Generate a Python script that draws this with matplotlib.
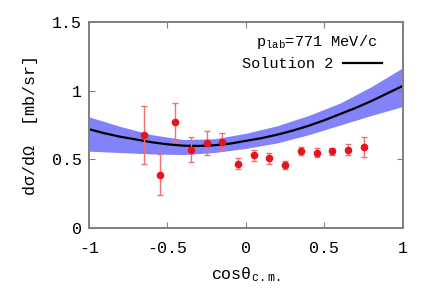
import matplotlib

matplotlib.use("Agg")
import matplotlib.pyplot as plt
import numpy as np

plt.rcParams["font.family"] = ["Liberation Mono", "DejaVu Sans Mono"]
plt.rcParams["mathtext.fontset"] = "custom"
plt.rcParams["mathtext.rm"] = "Liberation Mono"

# data points
cos_data = [-0.65, -0.55, -0.45, -0.35, -0.25, -0.15, -0.05, 0.05, 0.15,
            0.25, 0.35, 0.45, 0.55, 0.65, 0.75]
xs_data = [0.68, 0.39, 0.77, 0.57, 0.62, 0.63, 0.47, 0.53, 0.51,
           0.46, 0.56, 0.55, 0.56, 0.57, 0.59]
xs_err = [0.21, 0.15, 0.14, 0.09, 0.09, 0.065, 0.04, 0.04, 0.04,
          0.03, 0.03, 0.03, 0.025, 0.04, 0.07]

# Solution 2 curve
cos_fit = [-1.0, -0.9, -0.8, -0.7, -0.6, -0.5, -0.4, -0.3, -0.2, -0.1, 0.0,
           0.1, 0.2, 0.3, 0.4, 0.5, 0.6, 0.7, 0.8, 0.9, 1.0]
xs_fit = [0.72, 0.69, 0.665, 0.645, 0.625, 0.61, 0.60, 0.598, 0.603, 0.615, 0.635,
          0.655, 0.68, 0.71, 0.745, 0.785, 0.83, 0.875, 0.925, 0.98, 1.035]

# error band
cos_band = [-1.0, -0.8, -0.6, -0.4, -0.2, 0.0, 0.2, 0.4, 0.6, 0.8, 1.0]
band_hi = [0.81, 0.74, 0.68, 0.645, 0.65, 0.69, 0.745, 0.82, 0.91, 1.03, 1.167]
band_lo = [0.56, 0.55, 0.54, 0.535, 0.55, 0.58, 0.62, 0.68, 0.75, 0.82, 0.885]

fig = plt.figure(figsize=(4.36, 3.05), dpi=100)
ax = fig.add_axes([0.204, 0.252, 0.72, 0.676])

ax.fill_between(cos_band, band_lo, band_hi, color="#8282fa", lw=0)
ax.plot(cos_fit, xs_fit, color="black", lw=1.6, label="Solution 2")
ax.errorbar(cos_data, xs_data, yerr=xs_err, fmt="none", ecolor="#f07070",
            elinewidth=1.0, capsize=2, capthick=1.0)
ax.plot(cos_data, xs_data, "o", color="#e8141c", ms=5.5, mec="none")

ax.set_xlim(-1, 1)
ax.set_ylim(0, 1.5)
ax.set_xticks([-1, -0.5, 0, 0.5, 1])
ax.set_xticklabels(["-1", "-0.5", "0", "0.5", "1"])
ax.set_yticks([0, 0.5, 1, 1.5])
ax.set_yticklabels(["0", "0.5", "1", "1.5"])
ax.tick_params(direction="in", top=True, right=True, length=4, width=0.8,
               color="#808080", labelsize=12)
ax.tick_params(axis="x", pad=9)
ax.tick_params(axis="y", pad=5)
for s in ax.spines.values():
    s.set_color("#808080")
    s.set_linewidth(1.4)

ax.set_xlabel(r"cos$\mathregular{\theta_{c.m.}}$", fontsize=12, labelpad=7)
ax.set_ylabel("dσ/dΩ  [mb/sr]", fontsize=12, labelpad=10)

ax.text(0.92, 0.903, r"$\mathregular{p_{lab}}$=771 MeV/c", transform=ax.transAxes,
        ha="right", va="center", fontsize=11)
ax.legend(loc="center right", bbox_to_anchor=(0.952, 0.796), frameon=False,
          fontsize=11, markerfirst=False, handlelength=2.5, handletextpad=0.65,
          borderaxespad=0)

fig.savefig("out.png", dpi=100)
